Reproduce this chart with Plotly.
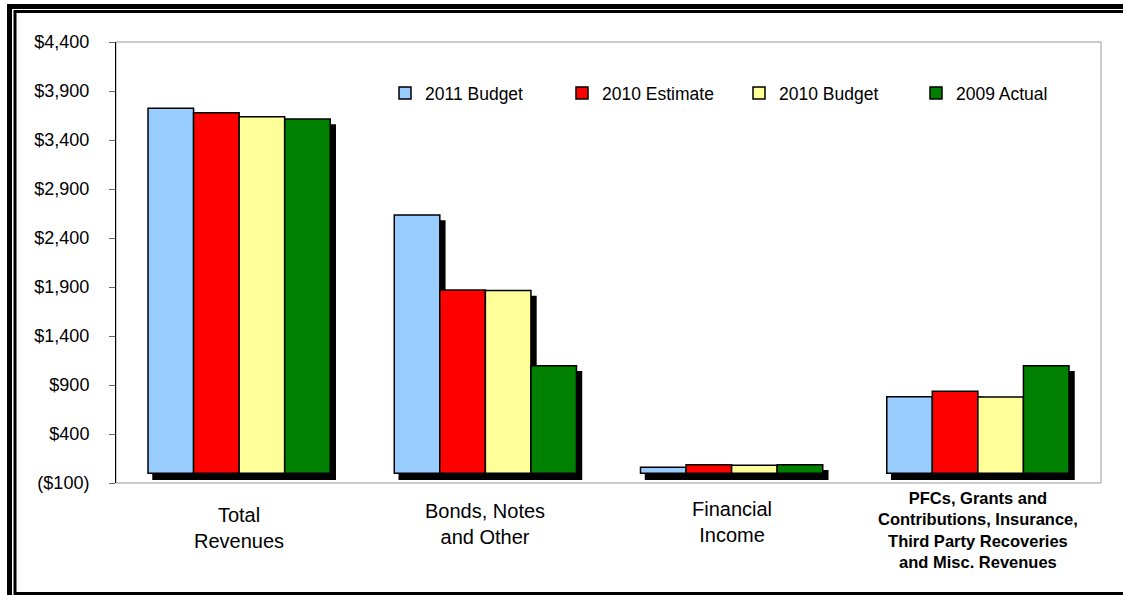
import plotly.graph_objects as go

# ---- data ----
categories = ["Total<br>Revenues", "Bonds, Notes<br>and Other", "Financial<br>Income",
              "PFCs, Grants and<br>Contributions, Insurance,<br>Third Party Recoveries<br>and Misc. Revenues"]
series_names = ["2011 Budget", "2010 Estimate", "2010 Budget", "2009 Actual"]
budget_2011 = [3723, 2635, 60, 781]
estimate_2010 = [3679, 1869, 85, 836]
budget_2010 = [3638, 1865, 80, 778]
actual_2009 = [3614, 1097, 85, 1097]
y_tickvals = [-100, 400, 900, 1400, 1900, 2400, 2900, 3400, 3900, 4400]
y_ticktext = ["($100)", "$400", "$900", "$1,400", "$1,900", "$2,400", "$2,900", "$3,400", "$3,900", "$4,400"]

series_values = [budget_2011, estimate_2010, budget_2010, actual_2009]
colors = ["#99CCFF", "#FF0000", "#FFFF99", "#008000"]

W, H = 1123, 595
L, R = 116, 1106   # paper left/right px
T, B = 42, 489     # paper top/bottom px
dx, dy = 5, 6      # shadow offset px
pw, ph = R - L, B - T

FONT = "Liberation Sans, Arial, sans-serif"
cat_ids = ["c0", "c1", "c2", "c3"]

fig = go.Figure()
# shadows (base subplot, drawn first)
for name, vals in zip(series_names, series_values):
    fig.add_trace(go.Bar(x=cat_ids, y=vals, name=name, showlegend=False,
                         marker=dict(color="black", line=dict(color="black", width=1.5)),
                         xaxis="x", yaxis="y", hoverinfo="skip"))
# main bars
for name, vals, c in zip(series_names, series_values, colors):
    fig.add_trace(go.Bar(x=cat_ids, y=vals, name=name,
                         marker=dict(color=c, line=dict(color="black", width=1.5)),
                         xaxis="x2", yaxis="y2"))

yr = [-100, 4400]
fig.update_layout(
    width=W, height=H,
    margin=dict(l=L, r=W - R, t=T, b=H - B, autoexpand=False),
    paper_bgcolor="white", plot_bgcolor="rgba(0,0,0,0)",
    barmode="group", bargap=0.26, bargroupgap=0,
    font=dict(family=FONT, color="black"),
    xaxis=dict(domain=[dx / pw, 1], type="category", visible=False, categoryorder="array", categoryarray=cat_ids),
    yaxis=dict(domain=[0, 1 - dy / ph], range=yr, visible=False),
    xaxis2=dict(domain=[0, 1 - dx / pw], type="category", anchor="y2", showticklabels=False,
                showgrid=False, showline=False, ticks="", zeroline=False,
                categoryorder="array", categoryarray=cat_ids),
    yaxis2=dict(domain=[dy / ph, 1], range=yr, anchor="x2", tickvals=y_tickvals, ticktext=y_ticktext,
                showgrid=False, zeroline=False, showline=True, linecolor="black", linewidth=1,
                ticks="outside", ticklen=6, tickcolor="#666", tickfont=dict(size=18, family=FONT),
                ticklabelstandoff=16),
    legend=dict(orientation="h", x=(385 - L) / pw, xanchor="left", y=(B - 93) / ph, yanchor="middle",
                font=dict(size=17.5, family=FONT), bgcolor="rgba(0,0,0,0)", borderwidth=0,
                entrywidth=132, entrywidthmode="pixels", traceorder="normal"),
    showlegend=True,
)

def px(x):
    return (x - L) / pw
def py(y):
    return (B - y) / ph

shapes = [
    dict(type="rect", xref="x2 domain", yref="y2 domain", x0=0, x1=1, y0=0, y1=1,
         line=dict(color="#999999", width=1), layer="below"),
    dict(type="rect", xref="paper", yref="paper", x0=px(9.5), x1=px(1160), y0=py(6.5), y1=py(620),
         line=dict(color="black", width=5)),
    dict(type="rect", xref="paper", yref="paper", x0=px(15), x1=px(1160), y0=py(11.5), y1=py(593.5),
         line=dict(color="black", width=3)),
]
fig.update_layout(shapes=shapes)

label_y = [528, 524, 522, 529.5]
label_size = [20, 20, 20, 16.5]
label_bold = [False, False, False, True]
for cid, lab, yy, sz, bd in zip(cat_ids, categories, label_y, label_size, label_bold):
    fig.add_annotation(x=cid, xref="x2", y=py(yy), yref="paper", text=lab, showarrow=False,
                       xanchor="center", yanchor="middle",
                       font=dict(size=sz, family=FONT, color="black", weight="bold" if bd else "normal"))

fig.write_html("out.html", config={"displayModeBar": False},
               post_script="document.body.style.margin='0';document.body.style.overflow='hidden';")
